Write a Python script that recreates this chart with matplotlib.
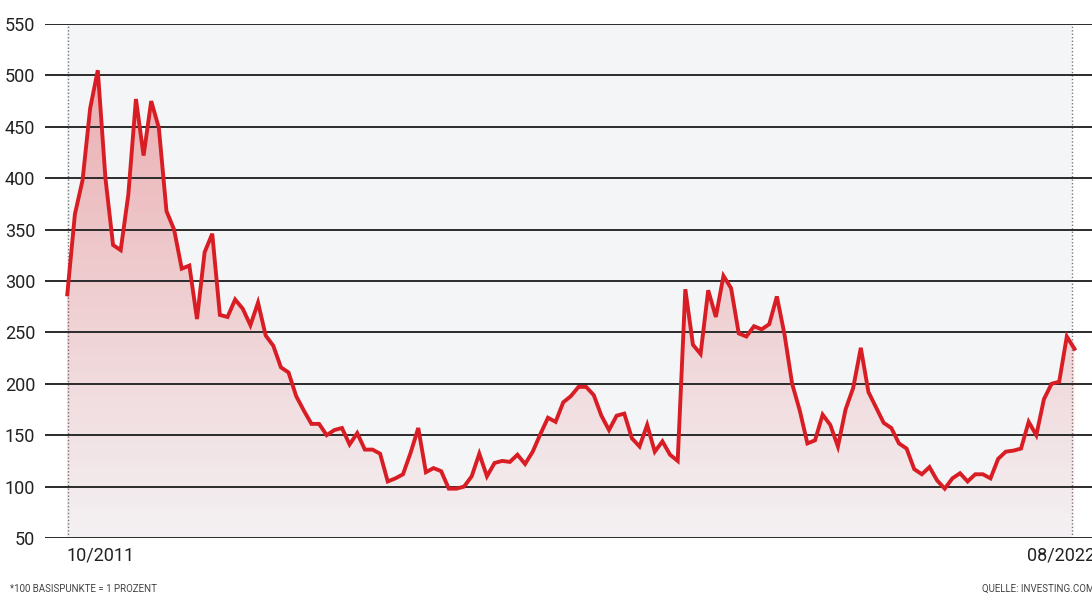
import numpy as np
import matplotlib
matplotlib.use("Agg")
import matplotlib.pyplot as plt
from matplotlib.colors import LinearSegmentedColormap
from matplotlib.patches import Polygon

plt.rcParams['font.family'] = ['Roboto', 'DejaVu Sans']

# monthly spread in basis points, 10/2011 .. 08/2022
spread = [287, 365, 398, 468, 505, 400, 335, 330, 384, 477,
          422, 475, 449, 368, 350, 312, 315, 263, 328, 346,
          267, 265, 282, 273, 257, 279, 247, 237, 216, 211,
          188, 174, 161, 161, 150, 155, 157, 141, 152, 136,
          136, 132, 105, 108, 112, 133, 157, 114, 118, 115,
          98, 98, 100, 110, 132, 110, 123, 125, 124, 131,
          122, 134, 151, 167, 163, 182, 188, 197, 197, 189,
          169, 155, 169, 171, 147, 139, 160, 134, 144, 131,
          125, 292, 238, 229, 291, 265, 305, 293, 249, 246,
          256, 253, 258, 285, 248, 200, 174, 142, 145, 170,
          160, 139, 175, 196, 235, 192, 177, 162, 157, 142,
          137, 117, 112, 119, 106, 98, 108, 113, 105, 112,
          112, 108, 127, 134, 135, 137, 163, 150, 185, 200,
          202, 246, 234]
yticks = [50, 100, 150, 200, 250, 300, 350, 400, 450, 500, 550]
start_label = "10/2011"
end_label = "08/2022"
note_left = "*100 BASISPUNKTE = 1 PROZENT"
note_right = "QUELLE: INVESTING.COM"

x = np.arange(len(spread))
y = np.array(spread, dtype=float)
red = "#d81e24"

fig = plt.figure(figsize=(10.92, 5.94), dpi=100)
ax = fig.add_axes([45 / 1092, 56 / 594, 1 - 45 / 1092, 514 / 594])
ax.set_xlim(-2.92, 134.3)
ax.set_ylim(50, 550)

# grey plot background between the two dotted markers
ax.axvspan(x[0], x[-1] - 0.3, color="#f4f5f7", zorder=0, lw=0)
for xv in (x[0] + 0.1, x[-1] - 0.3):
    ax.axvline(xv, color="#777777", lw=1, ls=(0, (1, 1.5)), zorder=1)

for t in yticks:
    ax.axhline(t, color="#2b2b2b", lw=1.4, zorder=2)

# gradient fill under the line
cmap = LinearSegmentedColormap.from_list(
    "fade", [(0.85, 0.12, 0.14, 0.02), (0.85, 0.12, 0.14, 0.33)])
grad = np.linspace(0, 1, 256).reshape(-1, 1)
img = ax.imshow(grad, cmap=cmap, origin="lower", aspect="auto",
                extent=[x[0], x[-1], 50, y.max()], zorder=1.5)
verts = np.column_stack([np.r_[x[0], x, x[-1]], np.r_[50, y, 50]])
poly = Polygon(verts, closed=True, facecolor="none", edgecolor="none")
ax.add_patch(poly)
img.set_clip_path(poly)

ax.plot(x, y, color=red, lw=2.8, solid_joinstyle="miter", zorder=3)

ax.set_yticks(yticks)
ax.set_xticks([])
ax.tick_params(axis="y", length=0, pad=7, labelsize=13, labelcolor="#222222")
for s in ax.spines.values():
    s.set_visible(False)

fig.text(66 / 1092, 1 - 555 / 594, start_label, fontsize=13, color="#222222",
         ha="left", va="center")
fig.text(1095 / 1092, 1 - 555 / 594, end_label, fontsize=13, color="#222222",
         ha="right", va="center")
fig.text(10 / 1092, 1 - 589 / 594, note_left, fontsize=7, color="#444444",
         ha="left", va="center")
fig.text(1094 / 1092, 1 - 589 / 594, note_right, fontsize=7, color="#444444",
         ha="right", va="center")

fig.savefig("out.png", dpi=100)
